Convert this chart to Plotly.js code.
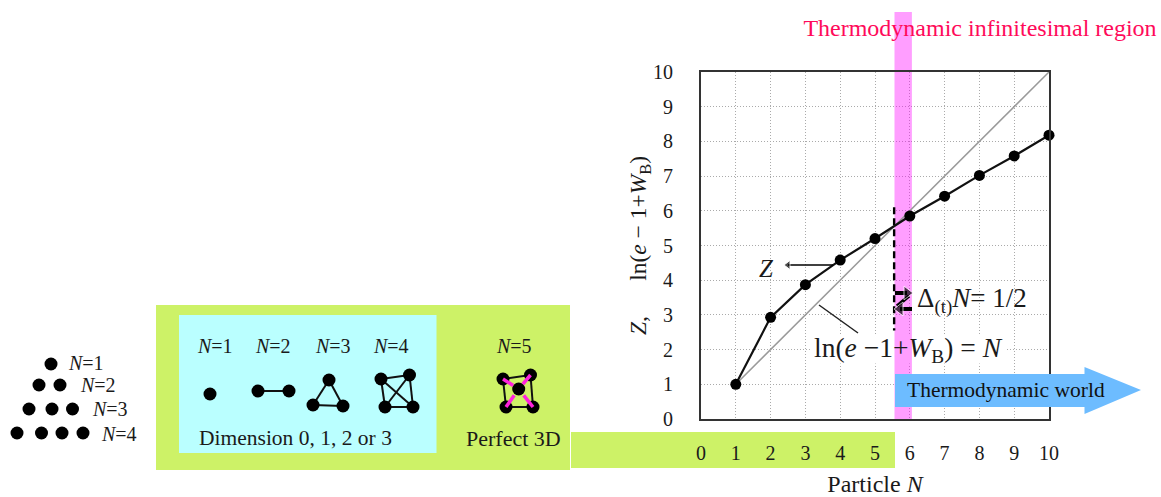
<!DOCTYPE html>
<html>
<head>
<meta charset="utf-8">
<script src="https://cdn.plot.ly/plotly-3.0.1.min.js"></script>
<style>html,body{margin:0;padding:0;background:#fff}#chart{width:1161px;height:497px}</style>
</head>
<body>
<div id="chart"></div>
<script>
// Chart data
const particleN = [1, 2, 3, 4, 5, 6, 7, 8, 9, 10];
const zValues = [1, 2.93, 3.87, 4.58, 5.2, 5.85, 6.42, 7.02, 7.58, 8.18];
const identityN = [1, 10];
const identityValues = [1, 10];
const dashN = [5.55, 5.55];
const dashValues = [6.1, 2.55];
const tickValues = [0, 1, 2, 3, 4, 5, 6, 7, 8, 9, 10];
const bandRange = [5.56, 6.06];

// Schematic: particle pile, in page pixels
const pileX = [51, 39, 60, 29, 52, 72.5, 17, 41.5, 62, 83];
const pileY = [364, 385, 385, 409, 409, 409, 433, 433, 433, 433];
const pileLabels = [['N', 86, 363, 1], ['N', 98, 385, 2], ['N', 110, 409, 3], ['N', 119, 434, 4]];

// Schematic: clusters, in page pixels
const clusters = [
  {nodes: [[210, 394]], edges: [], label: [215, 1]},
  {nodes: [[258, 391], [289, 391]], edges: [[0, 1]], label: [273, 2]},
  {nodes: [[329, 380], [313, 405], [343, 406]], edges: [[0, 1], [0, 2], [1, 2]], label: [333, 3]},
  {nodes: [[381, 379], [409.5, 375], [385, 407], [413, 407]], edges: [[0, 1], [0, 2], [1, 3], [2, 3], [0, 3], [1, 2]], label: [391, 4]},
  {nodes: [[503, 379], [530.5, 375], [506, 407], [533, 407], [518.7, 389]], edges: [[0, 1], [0, 2], [1, 3], [2, 3]], label: [514, 5]}
];
const spokes = [[0, 4], [1, 4], [2, 4], [3, 4]];

const W = 1161, H = 497;
const SERIF = '"Liberation Serif", "Times New Roman", serif';
const px = x => x / W;
const py = y => 1 - y / H;
const INK = '#1a1a1a';

const page = {xaxis: 'x2', yaxis: 'y2', hoverinfo: 'skip', showlegend: false};

const traces = [
  {x: identityN, y: identityValues, mode: 'lines', line: {color: '#9a9a9a', width: 1.5}, hoverinfo: 'skip', showlegend: false},
  {x: dashN, y: dashValues, mode: 'lines', line: {color: '#000', width: 2.4, dash: '7px,4px'}, hoverinfo: 'skip', showlegend: false},
  {x: particleN, y: zValues, mode: 'lines+markers', line: {color: '#111', width: 2.2},
   marker: {color: '#000', size: 11}, cliponaxis: false, showlegend: false},
  {...page, x: pileX, y: pileY, mode: 'markers', marker: {color: '#000', size: 13}}
];

clusters.forEach(c => {
  c.edges.forEach(e => {
    traces.push({...page, x: [c.nodes[e[0]][0], c.nodes[e[1]][0]], y: [c.nodes[e[0]][1], c.nodes[e[1]][1]],
      mode: 'lines', line: {color: '#111', width: 2}});
  });
  traces.push({...page, x: c.nodes.map(n => n[0]), y: c.nodes.map(n => n[1]), mode: 'markers',
    marker: {color: '#000', size: 13}});
});
const c5 = clusters[4].nodes;
spokes.forEach(s => {
  const a = c5[s[0]], b = c5[s[1]];
  traces.push({...page, x: [a[0], b[0] + (a[0]-b[0])*0.35], y: [a[1], b[1] + (a[1]-b[1])*0.35],
    mode: 'lines', line: {color: '#ff22dd', width: 3.5}});
});

// Small arrows, page pixels
const arrowTrace = (xs, ys, w, symbol, size) => ({...page, x: xs, y: ys, mode: 'lines+markers',
  line: {color: '#000', width: w}, marker: {color: '#000', size: [0, size], symbol: ['circle', symbol]}});
traces.push(arrowTrace([833, 788], [265, 265], 1.5, 'triangle-left', 8));
traces.push({...page, x: [909, 897], y: [296, 306], mode: 'lines', line: {color: '#000', width: 3.5}});
traces.push(arrowTrace([895, 907], [293, 293], 4, 'triangle-right', 12));
traces.push(arrowTrace([912, 900], [309, 309], 4, 'triangle-left', 12));

const rect = (x0, y0, x1, y1, color) => ({type: 'rect', xref: 'paper', yref: 'paper',
  x0: px(x0), x1: px(x1), y0: py(y0), y1: py(y1), fillcolor: color, line: {width: 0}, layer: 'below'});

const arrowPath = [[895, 374], [1084.5, 374], [1084.5, 367], [1141, 390], [1084.5, 414], [1084.5, 407], [895, 407]]
  .map((p, i) => (i ? 'L' : 'M') + px(p[0]) + ',' + py(p[1])).join(' ') + ' Z';

const shapes = [
  rect(156, 305, 570, 470, '#cdf267'),
  rect(179, 315, 436.5, 453, '#baffff'),
  rect(571, 432, 895, 468, '#cdf267'),
  {type: 'rect', xref: 'x', yref: 'y', x0: 3.13, x1: 8.76, y0: 1.6, y1: 2.4, fillcolor: '#fff', line: {width: 0}, layer: 'between'},
  {type: 'rect', xref: 'x', yref: 'y', x0: bandRange[0], x1: bandRange[1], y0: 0, y1: 10, fillcolor: 'rgba(255,0,255,0.38)', line: {width: 0}, layer: 'between'},
  {type: 'rect', xref: 'x', yref: 'paper', x0: bandRange[0], x1: bandRange[1], y0: py(72), y1: py(12), fillcolor: 'rgba(255,0,255,0.38)', line: {width: 0}, layer: 'below'},
  {type: 'path', xref: 'paper', yref: 'paper', path: arrowPath, fillcolor: '#6dbcff', line: {width: 0}, layer: 'above'},
  {type: 'line', xref: 'paper', yref: 'paper', x0: px(819), y0: py(305), x1: px(858), y1: py(333), line: {color: '#222', width: 1.5}, layer: 'above'}
];

const note = (text, x, y, size, color) => ({text, xref: 'x2', yref: 'y2', x, y, showarrow: false,
  font: {family: SERIF, size: size || 15, color: color || INK}, xanchor: 'center', yanchor: 'middle'});

const annotations = [
  ...pileLabels.map(l => note('<i>' + l[0] + '</i>=' + l[3], l[1], l[2], 20)),
  ...clusters.map(c => note('<i>N</i>=' + c.label[1], c.label[0], 345.5, 20)),
  note('Dimension 0, 1, 2 or 3', 295, 438, 21.5),
  note('Perfect 3D', 513.5, 438, 22),
  note('<i>Z</i>', 766, 268, 25),
  note('Δ<sub>(t)</sub><i>N</i>= 1/2', 972, 300, 27),
  note('ln(<i>e</i> −1+<i>W</i><sub>B</sub>) = <i>N</i>', 908, 349, 27.5),
  note('Thermodynamic world', 1006, 390, 21.5, '#111')
];

const layout = {
  width: W, height: H,
  margin: {l: 0, r: 0, t: 0, b: 0, pad: 0},
  paper_bgcolor: '#fff', plot_bgcolor: 'rgba(0,0,0,0)',
  showlegend: false,
  title: {text: 'Thermodynamic infinitesimal region', x: 980 / W, xanchor: 'center', y: 1 - 28 / H, yanchor: 'middle',
    font: {family: SERIF, size: 24, color: '#ff0a5a'}},
  font: {family: SERIF, color: INK},
  xaxis: {domain: [px(701), px(1049)], range: [0, 10], anchor: 'y', tickmode: 'array', tickvals: tickValues,
    ticks: 'outside', ticklen: 15, tickcolor: 'rgba(0,0,0,0)', tickfont: {family: SERIF, size: 20, color: INK},
    showgrid: true, gridcolor: '#aaaaaa', griddash: '1px,2px', gridwidth: 1,
    showline: true, linecolor: '#333', linewidth: 2, mirror: true, zeroline: false,
    title: {text: 'Particle <i>N</i>', standoff: 22, font: {family: SERIF, size: 24, color: INK}}},
  yaxis: {domain: [py(419), py(72)], range: [0, 10], anchor: 'x', tickmode: 'array', tickvals: tickValues,
    ticks: 'outside', ticklen: 22, tickcolor: 'rgba(0,0,0,0)', tickfont: {family: SERIF, size: 20, color: INK},
    showgrid: true, gridcolor: '#aaaaaa', griddash: '1px,2px', gridwidth: 1,
    showline: true, linecolor: '#333', linewidth: 2, mirror: true, zeroline: false,
    title: {text: '<i>Z</i>,      ln(<i>e</i> − 1+<i>W</i><sub>B</sub>)', standoff: 0, font: {family: SERIF, size: 23.5, color: INK}}},
  xaxis2: {domain: [0, 1], range: [0, W], anchor: 'y2', visible: false, fixedrange: true},
  yaxis2: {domain: [0, 1], range: [H, 0], anchor: 'x2', visible: false, fixedrange: true},
  shapes, annotations
};

Plotly.newPlot('chart', traces, layout, {displayModeBar: false, responsive: false});
</script>
</body>
</html>
